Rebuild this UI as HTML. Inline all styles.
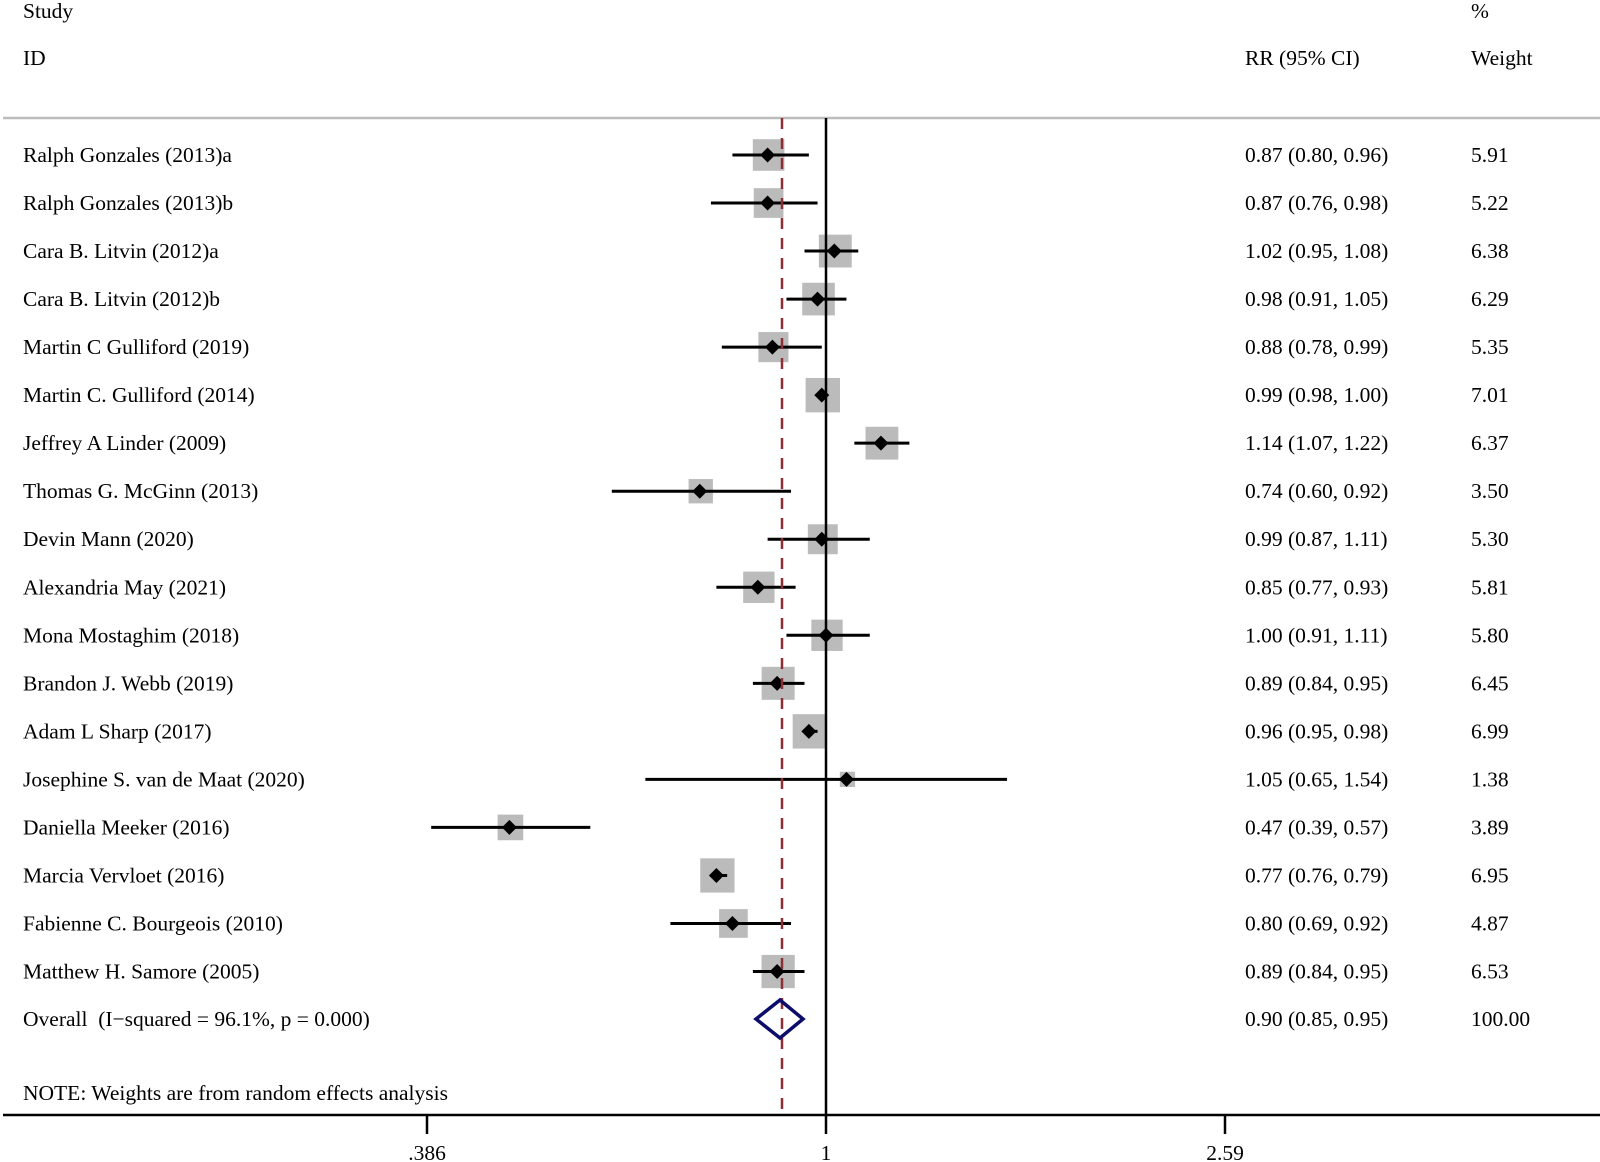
<!DOCTYPE html>
<html><head><meta charset="utf-8"><style>
html,body{margin:0;padding:0;background:#fff;}
svg{display:block;}
text{font-family:"Liberation Serif",serif;font-size:21.5px;fill:#000;}
</style></head><body>
<svg id="s" width="1600" height="1162" viewBox="0 0 1600 1162" xmlns="http://www.w3.org/2000/svg">
<text x="23" y="18">Study</text>
<text x="23" y="65">ID</text>
<text x="1245" y="65">RR (95% CI)</text>
<text x="1471" y="18">%</text>
<text x="1471" y="65">Weight</text>
<line x1="3" y1="118" x2="1600" y2="118" stroke="#bbb" stroke-width="2.5"/>
<g id="g"></g>
<line x1="826" y1="118" x2="826" y2="1115" stroke="#000" stroke-width="2.5"/>
<line x1="782" y1="118" x2="782" y2="1115" stroke="#8b2e35" stroke-width="2.5" stroke-dasharray="11,9"/>
<polygon points="756,1019 780,1000 803,1019 780,1038" fill="none" stroke="#0c0c6a" stroke-width="3.5"/>
<text x="23" y="1026" xml:space="preserve">Overall  (I−squared = 96.1%, p = 0.000)</text>
<text x="1245" y="1026">0.90 (0.85, 0.95)</text>
<text x="1471" y="1026">100.00</text>
<text x="23" y="1100">NOTE: Weights are from random effects analysis</text>
<line x1="3" y1="1115" x2="1600" y2="1115" stroke="#000" stroke-width="2.5"/>
<line x1="427" y1="1115" x2="427" y2="1134" stroke="#000" stroke-width="2.5"/>
<line x1="826" y1="1115" x2="826" y2="1134" stroke="#000" stroke-width="2.5"/>
<line x1="1225" y1="1115" x2="1225" y2="1134" stroke="#000" stroke-width="2.5"/>
<text x="427" y="1160" text-anchor="middle">.386</text>
<text x="826" y="1160" text-anchor="middle">1</text>
<text x="1225" y="1160" text-anchor="middle">2.59</text>
</svg>
<script>
var d=[
["Ralph Gonzales (2013)a",0.87,0.80,0.96,5.91],
["Ralph Gonzales (2013)b",0.87,0.76,0.98,5.22],
["Cara B. Litvin (2012)a",1.02,0.95,1.08,6.38],
["Cara B. Litvin (2012)b",0.98,0.91,1.05,6.29],
["Martin C Gulliford (2019)",0.88,0.78,0.99,5.35],
["Martin C. Gulliford (2014)",0.99,0.98,1.00,7.01],
["Jeffrey A Linder (2009)",1.14,1.07,1.22,6.37],
["Thomas G. McGinn (2013)",0.74,0.60,0.92,3.50],
["Devin Mann (2020)",0.99,0.87,1.11,5.30],
["Alexandria May (2021)",0.85,0.77,0.93,5.81],
["Mona Mostaghim (2018)",1.00,0.91,1.11,5.80],
["Brandon J. Webb (2019)",0.89,0.84,0.95,6.45],
["Adam L Sharp (2017)",0.96,0.95,0.98,6.99],
["Josephine S. van de Maat (2020)",1.05,0.65,1.54,1.38],
["Daniella Meeker (2016)",0.47,0.39,0.57,3.89],
["Marcia Vervloet (2016)",0.77,0.76,0.79,6.95],
["Fabienne C. Bourgeois (2010)",0.80,0.69,0.92,4.87],
["Matthew H. Samore (2005)",0.89,0.84,0.95,6.53]];
function X(v){return 826+419.3*Math.log(v);}
var h="";
d.forEach(function(r,i){
 var y=155+i*48.03, c=X(r[1]), s=13*Math.sqrt(r[4]);
 h+='<rect x="'+(c-s/2+1)+'" y="'+(y-s/2)+'" width="'+s+'" height="'+s+'" fill="#bbb"/>';
 h+='<line x1="'+X(r[2])+'" y1="'+y+'" x2="'+X(r[3])+'" y2="'+y+'" stroke="#000" stroke-width="3"/>';
 h+='<polygon points="'+(c-7.5)+','+y+' '+c+','+(y-7.5)+' '+(c+7.5)+','+y+' '+c+','+(y+7.5)+'" fill="#000"/>';
 h+='<text x="23" y="'+(y+7)+'">'+r[0]+'</text>';
 h+='<text x="1245" y="'+(y+7)+'">'+r[1].toFixed(2)+' ('+r[2].toFixed(2)+', '+r[3].toFixed(2)+')</text>';
 h+='<text x="1471" y="'+(y+7)+'">'+r[4].toFixed(2)+'</text>';
});
document.getElementById("g").innerHTML=h;
</script>
</body></html>
